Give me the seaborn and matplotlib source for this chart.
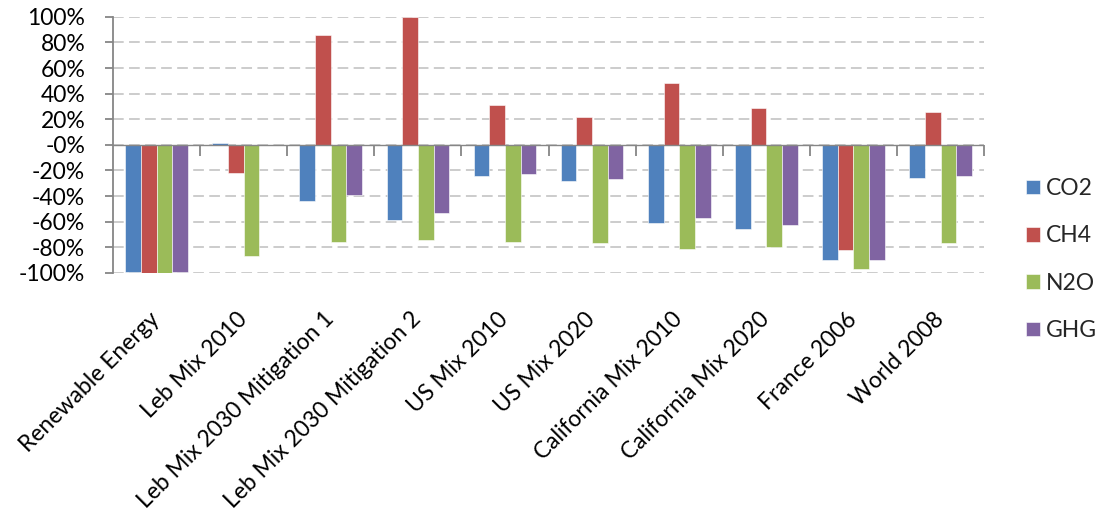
import numpy as np
import pandas as pd
import matplotlib
matplotlib.use("Agg")
import matplotlib.pyplot as plt
from matplotlib.ticker import FuncFormatter, NullFormatter
import seaborn as sns

# Relative change in emissions by electricity mix, per gas
scenarios = [
    "Renewable Energy", "Leb Mix 2010", "Leb Mix 2030 Mitigation 1",
    "Leb Mix 2030 Mitigation 2", "US Mix 2010", "US Mix 2020",
    "California Mix 2010", "California Mix 2020", "France 2006", "World 2008",
]
gases = ["CO2", "CH4", "N2O", "GHG"]
co2 = [-0.99, 0.015, -0.435, -0.585, -0.245, -0.28, -0.61, -0.66, -0.90, -0.26]
ch4 = [-1.00, -0.22, 0.86, 1.00, 0.31, 0.215, 0.485, 0.285, -0.82, 0.255]
n2o = [-1.00, -0.865, -0.76, -0.74, -0.76, -0.77, -0.81, -0.80, -0.97, -0.77]
ghg = [-0.995, 0.0, -0.39, -0.53, -0.23, -0.27, -0.575, -0.625, -0.90, -0.245]
colors = ["#4F81BD", "#C0504D", "#9BBB59", "#8064A2"]

df = pd.DataFrame({
    "scenario": np.repeat(scenarios, len(gases)),
    "gas": gases * len(scenarios),
    "value": np.column_stack([co2, ch4, n2o, ghg]).ravel(),
})

sns.set_theme(style="white")
plt.rcParams["font.family"] = ["Lato", "DejaVu Sans"]

fig = plt.figure(figsize=(11.12, 5.12), dpi=100)
ax = fig.add_axes([0.1016, 0.467, 0.885 - 0.1016, 0.967 - 0.467])

sns.barplot(
    data=df, x="scenario", y="value", hue="gas", order=scenarios,
    hue_order=gases, palette=colors, width=0.72, saturation=1,
    errorbar=None, ax=ax, zorder=2,
    edgecolor="white", linewidth=0.4,
)

ax.set_ylim(-1, 1)
ax.set_xlim(-0.5, len(scenarios) - 0.5)
ax.set_yticks(np.arange(-1, 1.01, 0.2))
ax.yaxis.set_major_formatter(FuncFormatter(lambda v, _: f"{v:.0%}"))
ax.set_xlabel("")
ax.set_ylabel("")

# dashed horizontal gridlines
ax.yaxis.grid(True, color="#BFBFBF", linewidth=1.1, linestyle=(0, (7, 3.5)), zorder=0)
ax.set_axisbelow(True)

for side in ["top", "right", "bottom"]:
    ax.spines[side].set_visible(False)
ax.spines["left"].set_color("#868686")
ax.spines["left"].set_linewidth(1.3)

ax.tick_params(axis="y", left=True, length=6, width=1.3, color="#868686",
               pad=14, labelsize=16.5, labelcolor="black")
ax.tick_params(axis="x", bottom=False, length=0, pad=31, labelsize=16.5,
               labelcolor="black")
for lab in ax.get_xticklabels():
    lab.set_rotation(45)
    lab.set_ha("right")
    lab.set_va("center")
    lab.set_rotation_mode("anchor")

# category axis line at zero, with ticks between groups
ax.axhline(0, color="#868686", linewidth=1.0, zorder=3)
zero_axis = ax.secondary_xaxis(0.5)
zero_axis.set_xticks(np.arange(0.5, len(scenarios), 1.0))
zero_axis.xaxis.set_major_formatter(NullFormatter())
zero_axis.xaxis.set_ticks_position("bottom")
zero_axis.tick_params(axis="x", length=8, width=1.3, color="#868686",
                      direction="out", labelbottom=False, labeltop=False)
for sp in zero_axis.spines.values():
    sp.set_visible(False)

leg = ax.legend(
    loc="center left", bbox_to_anchor=(0.904, 0.493),
    bbox_transform=fig.transFigure, frameon=False, fontsize=16.5,
    handlelength=0.62, handleheight=0.62, handletextpad=0.25,
    labelspacing=1.15,
)

fig.savefig("out.png", dpi=100)
